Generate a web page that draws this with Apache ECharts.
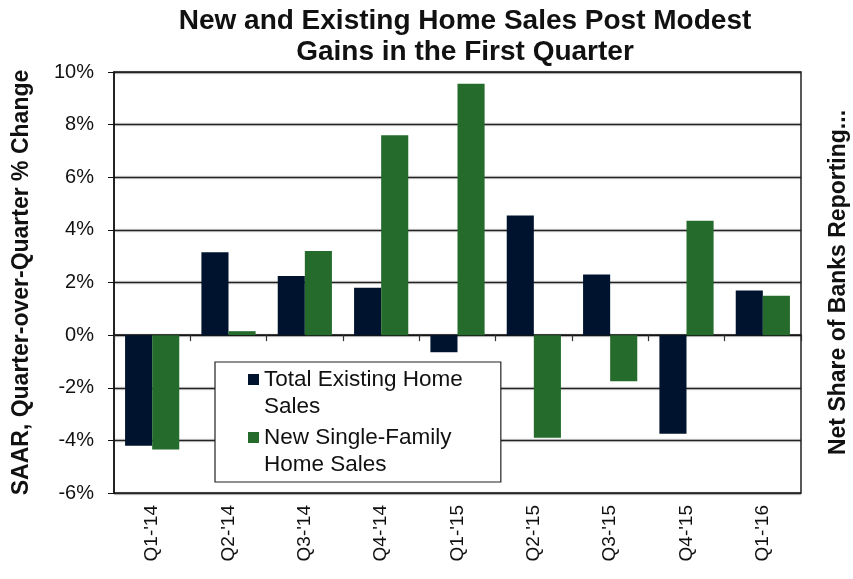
<!DOCTYPE html>
<html><head><meta charset="utf-8">
<script src="https://cdn.jsdelivr.net/npm/echarts@6/dist/echarts.min.js"></script>
<style>html,body{margin:0;padding:0;background:#fff}#c{width:853px;height:579px}</style>
</head><body><div id="c"></div>
<script>
var categories = ["Q1-'14","Q2-'14","Q3-'14","Q4-'14","Q1-'15","Q2-'15","Q3-'15","Q4-'15","Q1-'16"];
var existingSales = [-4.2, 3.15, 2.25, 1.8, -0.65, 4.55, 2.3, -3.75, 1.7];
var newSales = [-4.35, 0.15, 3.2, 7.6, 9.55, -3.9, -1.75, 4.35, 1.5];
var yTicks = {min: -6, max: 10, interval: 2};
var seriesNames = ["Total Existing Home\nSales", "New Single-Family\nHome Sales"];

var chart = echarts.init(document.getElementById('c'), null, {renderer: 'canvas'});
var font = 'Liberation Sans, Arial, sans-serif';
var legendIcon = 'path://M0,0L0.01,0L0,0.01Z M0,8L11,8L11,19L0,19Z M0,53.99L0.01,54L0,54Z';
chart.setOption({
  animation: false,
  backgroundColor: '#fff',
  title: {
    text: 'New and Existing Home Sales Post Modest\nGains in the First Quarter',
    left: 460, textAlign: 'center', top: 1,
    textStyle: {fontFamily: font, fontWeight: 'bold', fontSize: 28, lineHeight: 31, color: '#111'}
  },
  grid: {left: 114, right: 52, top: 72, bottom: 86, show: true, borderColor: '#222', borderWidth: 1.5, containLabel: false, outerBoundsMode: 'none'},
  legend: {
    orient: 'vertical', left: 215, top: 362,
    backgroundColor: '#fff', borderColor: '#222', borderWidth: 1.2,
    padding: [4, 38, 4, 33], itemGap: 4,
    itemWidth: 11, itemHeight: 54, icon: legendIcon,
    textStyle: {fontFamily: font, fontSize: 22.5, lineHeight: 27, color: '#111'},
    data: seriesNames
  },
  xAxis: [{
    type: 'category', data: categories, position: 'bottom',
    axisLine: {show: false}, axisTick: {show: false},
    axisLabel: {rotate: 90, margin: 12, fontFamily: font, fontSize: 19, color: '#111'}
  }, {
    type: 'category', data: categories, position: 'bottom',
    axisLine: {onZero: true, lineStyle: {color: '#111', width: 1.5}},
    axisTick: {show: true, length: 6, lineStyle: {color: '#333', width: 1.2}},
    axisLabel: {show: false}
  }],
  yAxis: [{
    type: 'value', min: yTicks.min, max: yTicks.max, interval: yTicks.interval,
    name: 'SAAR, Quarter-over-Quarter % Change', nameLocation: 'middle', nameGap: 81, nameRotate: 90,
    nameTextStyle: {fontFamily: font, fontWeight: 'bold', fontSize: 23, color: '#111'},
    axisLine: {show: true, lineStyle: {color: '#111', width: 1.5}},
    axisTick: {show: true, length: 6, lineStyle: {color: '#111'}},
    axisLabel: {formatter: '{value}%', margin: 20, fontFamily: font, fontSize: 20, color: '#111'},
    splitLine: {show: true, lineStyle: {color: '#222', width: 1.3, shadowColor: 'rgba(0,0,0,0.35)', shadowBlur: 2}}
  }, {
    type: 'value', position: 'right', min: yTicks.min, max: yTicks.max, interval: yTicks.interval,
    name: 'Net Share of Banks Reporting...', nameLocation: 'middle', nameGap: 26, nameRotate: 90,
    nameTextStyle: {fontFamily: font, fontWeight: 'bold', fontSize: 23, color: '#111'},
    axisLine: {show: false}, axisTick: {show: false}, axisLabel: {show: false}, splitLine: {show: false}
  }],
  series: [{
    name: seriesNames[0], type: 'bar', xAxisIndex: 1, data: existingSales,
    barGap: '0%', barCategoryGap: '29%',
    itemStyle: {color: '#00132e'}
  }, {
    name: seriesNames[1], type: 'bar', xAxisIndex: 1, data: newSales,
    barGap: '0%', barCategoryGap: '29%',
    itemStyle: {color: '#246b2c'}
  }]
});
</script></body></html>
